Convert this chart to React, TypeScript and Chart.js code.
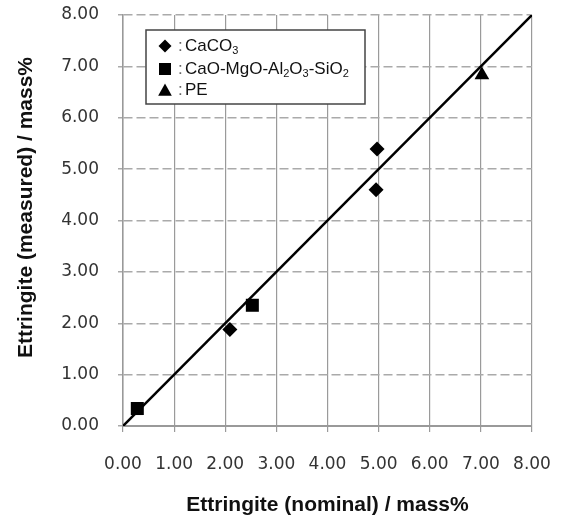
import React, { useEffect, useRef } from "react";
import { Chart, registerables } from "chart.js";

Chart.register(...registerables);

// ---- data ----
const axisMin = 0;
const axisMax = 8;
const tickStep = 1;

const caco3X = [2.09, 4.97, 4.95];
const caco3Y = [1.88, 5.39, 4.6];
const cmasX = [0.28, 2.53];
const cmasY = [0.34, 2.35];
const peX = [7.02];
const peY = [6.83];
const refLineX = [0, 8];
const refLineY = [0, 8];

const xTitle = "Ettringite (nominal) / mass%";
const yTitle = "Ettringite (measured) / mass%";

// legend labels: [text, isSubscript]
const legendCaCO3: [string, boolean][] = [["CaCO", false], ["3", true]];
const legendCMAS: [string, boolean][] = [
  ["CaO-MgO-Al", false],
  ["2", true],
  ["O", false],
  ["3", true],
  ["-SiO", false],
  ["2", true],
];
const legendPE: [string, boolean][] = [["PE", false]];

const toPts = (xs: number[], ys: number[]) => xs.map((x, i) => ({ x, y: ys[i] }));

function drawMarker(ctx: CanvasRenderingContext2D, kind: string, x: number, y: number, r: number) {
  ctx.beginPath();
  if (kind === "diamond") {
    ctx.moveTo(x - r, y);
    ctx.lineTo(x, y - r);
    ctx.lineTo(x + r, y);
    ctx.lineTo(x, y + r);
  } else if (kind === "square") {
    ctx.rect(x - r, y - r, 2 * r, 2 * r);
  } else {
    ctx.moveTo(x, y - r);
    ctx.lineTo(x + r * 1.05, y + r * 0.9);
    ctx.lineTo(x - r * 1.05, y + r * 0.9);
  }
  ctx.closePath();
  ctx.fill();
}

const overlayPlugin = {
  id: "overlay",
  afterDraw(chart: any) {
    const ctx: CanvasRenderingContext2D = chart.ctx;
    const { left, top } = chart.chartArea;
    ctx.save();
    // legend box
    const bx = left + 23;
    const by = top + 15;
    const bw = 219;
    const bh = 74;
    ctx.fillStyle = "#ffffff";
    ctx.fillRect(bx, by, bw, bh);
    ctx.strokeStyle = "#444444";
    ctx.lineWidth = 1.5;
    ctx.strokeRect(bx, by, bw, bh);

    const rows: { kind: string; r: number; parts: [string, boolean][]; dy: number }[] = [
      { kind: "diamond", r: 6.5, parts: legendCaCO3, dy: 16 },
      { kind: "square", r: 6, parts: legendCMAS, dy: 39 },
      { kind: "triangle", r: 6.5, parts: legendPE, dy: 60 },
    ];
    ctx.textBaseline = "middle";
    ctx.textAlign = "left";
    for (const row of rows) {
      const cy = by + row.dy;
      ctx.fillStyle = "#000";
      drawMarker(ctx, row.kind, bx + 19, cy, row.r);
      ctx.font = "17px 'Liberation Sans', Arial, sans-serif";
      ctx.fillStyle = "#666";
      ctx.fillText(":", bx + 32, cy);
      let tx = bx + 39;
      ctx.fillStyle = "#111";
      for (const [t, sub] of row.parts) {
        if (sub) {
          ctx.font = "11px 'Liberation Sans', Arial, sans-serif";
          ctx.fillText(t, tx, cy + 5);
        } else {
          ctx.font = "17px 'Liberation Sans', Arial, sans-serif";
          ctx.fillText(t, tx, cy);
        }
        tx += ctx.measureText(t).width;
      }
    }

    // y axis title
    ctx.translate(26, 207.5);
    ctx.rotate(-Math.PI / 2);
    ctx.font = "bold 21px 'Liberation Sans', Arial, sans-serif";
    ctx.fillStyle = "#111";
    ctx.textAlign = "center";
    ctx.textBaseline = "middle";
    ctx.fillText(yTitle, 0, 0);
    ctx.restore();
  },
};

export default function App() {
  const canvasRef = useRef<HTMLCanvasElement | null>(null);

  useEffect(() => {
    document.body.style.margin = "0";
    const canvas = canvasRef.current;
    if (!canvas) return;
    const tickFont = { family: "'DejaVu Sans', Verdana, sans-serif", size: 17 };
    const chart = new Chart(canvas, {
      type: "scatter",
      data: {
        datasets: [
          {
            label: "1:1",
            data: toPts(refLineX, refLineY),
            showLine: true,
            borderColor: "#000",
            borderWidth: 2.5,
            pointRadius: 0,
            order: 2,
          },
          {
            label: "CaCO3",
            data: toPts(caco3X, caco3Y),
            pointStyle: "rectRot",
            pointRadius: 7.5,
            backgroundColor: "#000",
            borderColor: "#000",
            borderWidth: 0,
            order: 1,
          },
          {
            label: "CaO-MgO-Al2O3-SiO2",
            data: toPts(cmasX, cmasY),
            pointStyle: "rect",
            pointRadius: 9.2,
            backgroundColor: "#000",
            borderColor: "#000",
            borderWidth: 0,
            order: 1,
          },
          {
            label: "PE",
            data: toPts(peX, peY),
            pointStyle: "triangle",
            pointRadius: 8.5,
            backgroundColor: "#000",
            borderColor: "#000",
            borderWidth: 0,
            order: 1,
          },
        ],
      },
      options: {
        responsive: false,
        animation: false,
        devicePixelRatio: 1,
        layout: { padding: { left: 0, top: 15, right: 31, bottom: 0 } },
        plugins: { legend: { display: false }, tooltip: { enabled: false } },
        scales: {
          x: {
            type: "linear",
            min: axisMin,
            max: axisMax,
            afterFit: (s: any) => {
              s.height = 91;
              s.paddingLeft = 0;
              s.paddingRight = 0;
            },
            ticks: {
              stepSize: tickStep,
              callback: (v: any) => Number(v).toFixed(2),
              font: tickFont,
              color: "#333",
              padding: 22,
              maxRotation: 0,
            },
            grid: { color: "#9a9a9a", lineWidth: 1.2, tickLength: 6, drawTicks: true },
            border: { display: true, color: "#999", width: 2 },
            title: {
              display: true,
              text: xTitle,
              color: "#111",
              font: { family: "'Liberation Sans', Arial, sans-serif", size: 21, weight: "bold", lineHeight: 1.1 },
              padding: 0,
            },
          },
          y: {
            type: "linear",
            min: axisMin,
            max: axisMax,
            afterFit: (s: any) => {
              s.width = 123;
              s.paddingTop = 0;
              s.paddingBottom = 0;
            },
            ticks: {
              stepSize: tickStep,
              callback: (v: any) => Number(v).toFixed(2),
              font: tickFont,
              color: "#333",
              padding: 19,
            },
            grid: { color: "#aaaaaa", lineWidth: 1.5, tickLength: 5, drawTicks: true },
            border: { display: true, color: "#999", width: 1.5, dash: [9, 4] },
          },
        },
      },
      plugins: [overlayPlugin],
    } as any);
    return () => chart.destroy();
  }, []);

  return <canvas ref={canvasRef} width={563} height={517} style={{ display: "block" }} />;
}
